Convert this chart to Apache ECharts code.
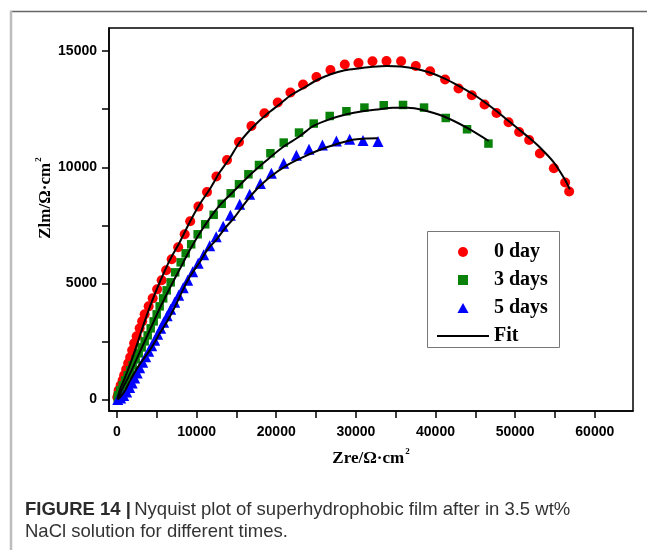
<!DOCTYPE html>
<html><head><meta charset="utf-8">
<script src="https://cdn.jsdelivr.net/npm/echarts@6/dist/echarts.min.js"></script>
<style>html,body{margin:0;padding:0;background:#fff}#c{width:647px;height:550px}</style>
</head><body><div id="c"></div>
<script>
// ---- tick values ----
const xTicks = [0,5000,10000,15000,20000,25000,30000,35000,40000,45000,50000,55000,60000];
const xLabels = [0,10000,20000,30000,40000,50000,60000];
const yTicks = [0,2500,5000,7500,10000,12500,15000];
const yLabels = [0,5000,10000,15000];
const seriesNames = ['0 day','3 days','5 days','Fit'];

// ---- measured points [Zre, Zim] ----
const day0 = [[50,90],[150,220],[214,388],[465,603],[716,819],[904,1034],[1156,1293],[1407,1552],[1658,1810],[1909,2112],[2160,2414],[2474,2715],[2851,3060],[3165,3362],[3479,3664],[3982,4008],[4484,4353],[5049,4741],[5614,5129],[6180,5560],[6870,6034],[7687,6551],[8503,7112],[9194,7672],[10226,8306],[11307,8935],[12487,9599],[13819,10315],[15327,11091],[16884,11780],[18518,12328],[20188,12789],[21784,13220],[23367,13565],[25050,13892],[26809,14194],[28606,14427],[30327,14496],[32085,14569],[33844,14582],[35678,14569],[37525,14366],[39322,14138],[41206,13780],[42889,13392],[44560,13103],[46156,12703],[47663,12341],[49171,11940],[50503,11522],[51759,11177],[53103,10591],[54862,9957],[56281,9341],[56784,8953]];
const day3 = [[100,43],[151,172],[402,388],[716,603],[1030,819],[1344,1034],[1658,1250],[1972,1465],[2349,1724],[2726,1983],[3102,2241],[3479,2500],[3856,2758],[4233,3060],[4610,3362],[4987,3664],[5363,4008],[5803,4353],[6243,4698],[6745,5043],[7310,5474],[8001,5905],[8629,6293],[9320,6681],[10136,7112],[11078,7543],[12146,7952],[13153,8426],[14280,8879],[15323,9267],[16504,9698],[17835,10098],[19267,10603],[20938,11064],[22859,11495],[24706,11883],[26716,12210],[28813,12413],[31074,12572],[33498,12671],[35922,12684],[38560,12572],[41286,12124],[43960,11637],[46648,11021]];
const day5 = [[100,0],[465,65],[842,172],[1218,323],[1595,517],[1909,711],[2223,927],[2537,1142],[2851,1358],[3228,1595],[3605,1832],[3982,2069],[4358,2306],[4735,2543],[5112,2802],[5489,3060],[5866,3319],[6305,3599],[6745,3879],[7247,4181],[7750,4482],[8315,4806],[8880,5129],[9508,5495],[10199,5862],[10890,6228],[11643,6616],[12459,7004],[13339,7456],[14243,7930],[15411,8405],[16667,8836],[18011,9297],[19393,9741],[20938,10172],[22533,10516],[24115,10775],[25798,10961],[27556,11133],[29227,11206],[30898,11154],[32782,11111]];

// ---- fitted curves [Zre, Zim] ----
const fit0 = [[50,0],[339,388],[967,905],[1595,1465],[2223,2069],[2851,2715],[3479,3362],[4107,3965],[4735,4526],[5363,5043],[6619,5991],[7875,6767],[9131,7629],[10387,8405],[11643,9051],[12899,9784],[14155,10387],[15411,11077],[17044,11723],[18802,12284],[20435,12715],[21816,13102],[23575,13447],[25082,13749],[26841,14008],[28600,14180],[30483,14266],[32116,14331],[33874,14366],[35633,14339],[37517,14245],[39275,14081],[41159,13822],[42792,13533],[44550,13188],[46183,12801],[47690,12413],[49072,12025],[50453,11637],[51835,11249],[53091,10861],[54849,10215],[56230,9482],[56858,9051]];
const fit3 = [[100,0],[465,302],[967,647],[1595,1078],[2223,1552],[2851,2026],[3479,2500],[4107,2974],[4735,3448],[5363,3922],[5991,4353],[6619,4784],[7875,5603],[9131,6422],[10387,7155],[11643,7801],[12899,8361],[14532,8922],[16667,9654],[18802,10301],[20812,10861],[22947,11335],[24580,11766],[26715,12068],[28850,12284],[30860,12413],[32995,12499],[34628,12564],[36512,12564],[38396,12469],[40908,12210],[43922,11710],[46685,11133]];
const fit5 = [[100,0],[590,172],[1093,431],[1595,776],[2223,1164],[2851,1509],[3479,1810],[4107,2112],[4735,2457],[5363,2845],[6242,3319],[7247,3965],[8252,4698],[9257,5344],[10387,5905],[11392,6465],[12523,6896],[13653,7413],[14658,7801],[16253,8534],[17547,9051],[19180,9568],[21315,10085],[23576,10473],[26339,10861],[29605,11185],[31237,11236],[32745,11249]];

const chart = echarts.init(document.getElementById('c'), null, {renderer:'canvas'});
const sans = 'Liberation Sans, Arial, sans-serif';
const serif = 'Liberation Serif, Times New Roman, serif';
const fitStyle = {color:'#000', width:2};
const fitSeries = (d) => ({name: seriesNames[3], type:'line', data:d, symbol:'none', showSymbol:false, smooth:0.3, lineStyle:fitStyle, itemStyle:{color:'#000'}, z:5});
const plain = (v) => String(v);

chart.setOption({
  animation:false,
  backgroundColor:'#fff',
  grid:{left:109, right:14, top:28, bottom:139, show:true, borderColor:'#000', borderWidth:1.5},
  xAxis:{type:'value', min:-1000, max:64800,
    axisLine:{show:true, onZero:false, lineStyle:{color:'#000', width:1.5}},
    axisTick:{show:true, inside:false, length:7, customValues:xTicks, lineStyle:{color:'#000', width:1.5}},
    axisLabel:{customValues:xLabels, formatter:plain, margin:14, color:'#000', fontFamily:sans, fontWeight:'bold', fontSize:14},
    splitLine:{show:false}},
  yAxis:{type:'value', min:-500, max:16000,
    axisLine:{show:true, onZero:false, lineStyle:{color:'#000', width:1.5}},
    axisTick:{show:true, inside:false, length:7, customValues:yTicks, lineStyle:{color:'#000', width:1.5}},
    axisLabel:{customValues:yLabels, formatter:plain, margin:12, color:'#000', fontFamily:sans, fontWeight:'bold', fontSize:14},
    splitLine:{show:false}},
  legend:{orient:'vertical', left:437, top:242, itemWidth:52, itemHeight:10, itemGap:8, padding:0,
    textStyle:{fontFamily:serif, fontWeight:'bold', fontSize:20, color:'#000'},
    data:[{name:seriesNames[0], icon:'circle'},
          {name:seriesNames[1], icon:'path://M0,0H10V10H0Z'},
          {name:seriesNames[2], icon:'path://M5,0L10,9L0,9Z'},
          {name:seriesNames[3], icon:'path://M0,0H52V2H0Z', itemStyle:{color:'#000'}}]},
  series:[
    {name:seriesNames[0], type:'scatter', data:day0, symbol:'circle', symbolSize:10, itemStyle:{color:'#ff0000', opacity:1}, z:2},
    {name:seriesNames[1], type:'scatter', data:day3, symbol:'rect', symbolSize:8.5, itemStyle:{color:'#0a820a', opacity:1}, z:2},
    {name:seriesNames[2], type:'scatter', data:day5, symbol:'triangle', symbolSize:11, itemStyle:{color:'#0000ff', opacity:1}, z:2},
    fitSeries(fit0), fitSeries(fit3), fitSeries(fit5)
  ],
  graphic:[
    {type:'line', shape:{x1:10, y1:11.5, x2:647, y2:11.5}, style:{stroke:'#666', lineWidth:1.5}, silent:true},
    {type:'line', shape:{x1:11, y1:11, x2:11, y2:550}, style:{stroke:'#bdbdbd', lineWidth:2.5}, silent:true},
    {type:'rect', shape:{x:427.5, y:231.5, width:132, height:116}, style:{fill:'none', stroke:'#777', lineWidth:1}, silent:true, z:10},
    {type:'text', x:46, y:198, rotation:Math.PI/2, silent:true,
      style:{text:'{a|Zlm/Ω·cm}{s|2}', align:'center', verticalAlign:'middle',
        rich:{a:{fontFamily:serif, fontWeight:'bold', fontSize:17, fill:'#000'},
              s:{fontFamily:serif, fontWeight:'bold', fontSize:9, fill:'#000', padding:[0,0,14,1]}}}},
    {type:'text', x:371, y:459, silent:true,
      style:{text:'{a|Zre/Ω·cm}{s|2}', align:'center', verticalAlign:'middle',
        rich:{a:{fontFamily:serif, fontWeight:'bold', fontSize:17, fill:'#000'},
              s:{fontFamily:serif, fontWeight:'bold', fontSize:9, fill:'#000', padding:[0,0,14,1]}}}},
    {type:'text', x:25, y:510, silent:true,
      style:{text:'{b|FIGURE 14 |} {r|Nyquist plot of superhydrophobic film after in 3.5 wt%}', align:'left', verticalAlign:'middle',
        rich:{b:{fontFamily:sans, fontWeight:'bold', fontSize:18.5, fill:'#2b2b2b'},
              r:{fontFamily:sans, fontSize:18.5, fill:'#333'}}}},
    {type:'text', x:25, y:532, silent:true,
      style:{text:'NaCl solution for different times.', align:'left', verticalAlign:'middle',
        fontFamily:sans, fontSize:18.5, fill:'#333'}}
  ]
});
</script></body></html>
